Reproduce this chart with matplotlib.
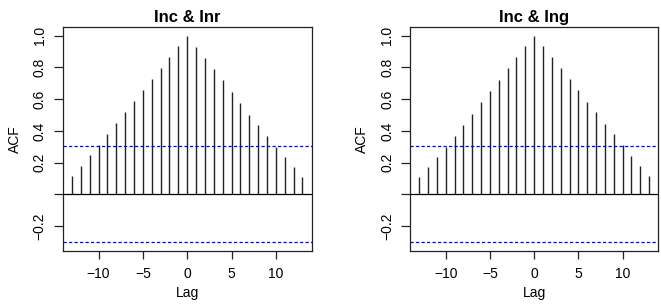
import matplotlib
matplotlib.use("Agg")
import matplotlib.pyplot as plt
import numpy as np

plt.rcParams['font.family'] = ['Liberation Sans', 'DejaVu Sans']

lags = list(range(-13, 14))
acf_inr = [0.118, 0.179, 0.246, 0.314, 0.381, 0.448, 0.520, 0.589, 0.659, 0.728,
           0.798, 0.867, 0.933, 1.000, 0.931, 0.861, 0.789, 0.718, 0.646, 0.575,
           0.503, 0.434, 0.368, 0.299, 0.236, 0.171, 0.107]
acf_ing = [0.107, 0.171, 0.236, 0.301, 0.371, 0.440, 0.509, 0.581, 0.651, 0.722,
           0.796, 0.867, 0.935, 1.000, 0.935, 0.865, 0.796, 0.724, 0.655, 0.585,
           0.518, 0.446, 0.379, 0.314, 0.244, 0.179, 0.116]
titles = ["Inc & Inr", "Inc & Ing"]
conf_limit = 0.302
xticks = [-10, -5, 0, 5, 10]
yticks = [-0.2, 0.0, 0.2, 0.4, 0.6, 0.8, 1.0]
yticklabels = ["\u22120.2", "", "0.2", "0.4", "0.6", "0.8", "1.0"]
xticklabels = ["\u221210", "\u22125", "0", "5", "10"]

W, H = 661, 305
fig = plt.figure(figsize=(W / 100, H / 100), dpi=100)

boxes = [(62.7, 311.7), (410.0, 658.3)]
top_px, bot_px = 27.3, 250.7

for (l, r), vals, title in zip(boxes, [acf_inr, acf_ing], titles):
    ax = fig.add_axes([l / W, (H - bot_px) / H, (r - l) / W, (bot_px - top_px) / H])
    ax.vlines(lags, 0, vals, color='#222222', lw=1.0)
    ax.axhline(0, color='black', lw=0.9)
    for c in (conf_limit, -conf_limit):
        ax.axhline(c, color='blue', lw=0.9, linestyle=(0, (2.6, 1.8)))
    span = 26
    ax.set_xlim(-13 - 0.04 * span, 13 + 0.04 * span)
    ylo, yhi = -conf_limit, 1.0
    ys = yhi - ylo
    ax.set_ylim(ylo - 0.04 * ys, yhi + 0.04 * ys)
    ax.set_xticks(xticks)
    ax.set_xticklabels(xticklabels)
    ax.set_yticks(yticks)
    ax.set_yticklabels(yticklabels, rotation=90, va='center')
    ax.tick_params(axis='x', length=6, width=0.9, pad=6, labelsize=10, color='#222222')
    ax.tick_params(axis='y', length=6.5, width=0.9, pad=5, labelsize=10, color='#222222')
    for s in ax.spines.values():
        s.set_linewidth(0.9)
        s.set_color('#222222')
    ax.set_xlabel("Lag", fontsize=10, labelpad=3)
    ax.set_ylabel("ACF", fontsize=10, labelpad=8)
    ax.set_title(title, fontsize=12, fontweight='bold', pad=4)

fig.savefig("out.png", dpi=100)
